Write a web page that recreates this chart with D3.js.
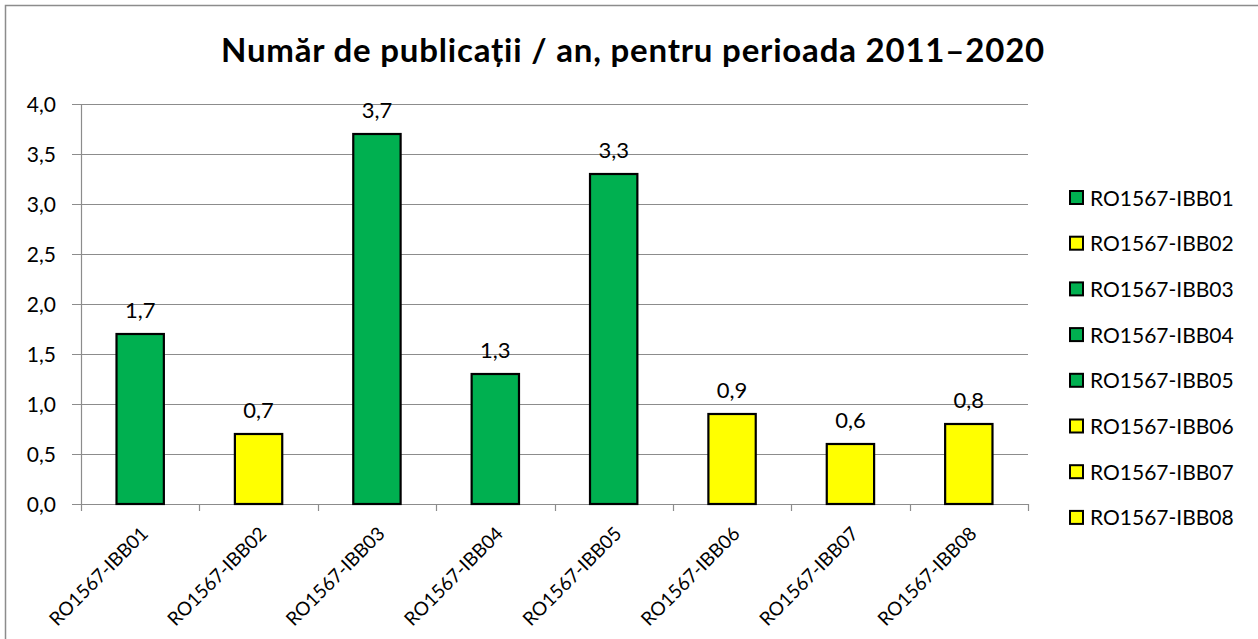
<!DOCTYPE html>
<html>
<head>
<meta charset="utf-8">
<script src="https://cdn.jsdelivr.net/npm/d3@7"></script>
<style>
  body { margin: 0; background: #fff; }
  svg { display: block; }
  text { font-family: Lato, "Open Sans", sans-serif; fill: #000; }
</style>
</head>
<body>
<svg id="chart" width="1258" height="639"></svg>
<script>
// chart data
var categories = ["RO1567-IBB01", "RO1567-IBB02", "RO1567-IBB03", "RO1567-IBB04",
                  "RO1567-IBB05", "RO1567-IBB06", "RO1567-IBB07", "RO1567-IBB08"];
var values = [1.7, 0.7, 3.7, 1.3, 3.3, 0.9, 0.6, 0.8];
var groups = ["green", "yellow", "green", "green", "green", "yellow", "yellow", "yellow"];
var yTicks = [0, 0.5, 1, 1.5, 2, 2.5, 3, 3.5, 4];
var title = "Număr de publicații / an, pentru perioada 2011–2020";

var colors = { green: "#00B050", yellow: "#FFFF00" };

var svg = d3.select("#chart");
var plot = { left: 81, right: 1028, top: 104, bottom: 504 };

// outer chart border (only top and left show in the picture)
svg.append("rect")
	.attr("x", 5.5).attr("y", 5.5)
	.attr("width", 1270).attr("height", 650)
	.attr("fill", "none")
	.attr("stroke", "#8c8c8c")
	.attr("stroke-width", 1.5);

var x = d3.scaleBand()
	.domain(categories)
	.range([plot.left, plot.right])
	.paddingInner(0.6)
	.paddingOuter(0.3);

var xCat = d3.scaleBand()
	.domain(categories)
	.range([plot.left, plot.right]);

var y = d3.scaleLinear()
	.domain([0, 4])
	.range([plot.bottom, plot.top]);

var fmt = function(v){ return d3.format(".1f")(v).replace(".", ","); };

// gridlines + y tick marks
svg.append("g")
	.selectAll("line")
	.data(yTicks)
	.join("line")
	.attr("x1", plot.left - 9)
	.attr("x2", plot.right)
	.attr("y1", function(d){ return Math.round(y(d)) + 0.5; })
	.attr("y2", function(d){ return Math.round(y(d)) + 0.5; })
	.attr("stroke", "#8c8c8c")
	.attr("stroke-width", 1.2);

// y axis line
svg.append("line")
	.attr("x1", plot.left + 0.5).attr("x2", plot.left + 0.5)
	.attr("y1", plot.top).attr("y2", plot.bottom)
	.attr("stroke", "#8c8c8c")
	.attr("stroke-width", 1.2);

// y tick labels
svg.append("g")
	.selectAll("text")
	.data(yTicks)
	.join("text")
	.attr("x", 56)
	.attr("y", function(d){ return y(d); })
	.attr("dy", "0.36em")
	.attr("text-anchor", "end")
	.attr("font-size", 21)
	.text(fmt);

// x tick marks at category boundaries
var bounds = categories.map(function(c){ return xCat(c); }).concat([plot.right]);
svg.append("g")
	.selectAll("line")
	.data(bounds)
	.join("line")
	.attr("x1", function(d){ return Math.round(d) + 0.5; })
	.attr("x2", function(d){ return Math.round(d) + 0.5; })
	.attr("y1", plot.bottom)
	.attr("y2", plot.bottom + 7)
	.attr("stroke", "#8c8c8c")
	.attr("stroke-width", 1.2);

// bars
svg.append("g")
	.selectAll("rect")
	.data(categories)
	.join("rect")
	.attr("x", function(d){ return x(d); })
	.attr("y", function(d, i){ return y(values[i]); })
	.attr("width", x.bandwidth())
	.attr("height", function(d, i){ return plot.bottom - y(values[i]); })
	.attr("fill", function(d, i){ return colors[groups[i]]; })
	.attr("stroke", "#000")
	.attr("stroke-width", 2.2);

// value labels
svg.append("g")
	.selectAll("text")
	.data(categories)
	.join("text")
	.attr("x", function(d){ return x(d) + x.bandwidth() / 2; })
	.attr("y", function(d, i){ return y(values[i]) - 16; })
	.attr("text-anchor", "middle")
	.attr("font-size", 22)
	.text(function(d, i){ return fmt(values[i]); });

// rotated category labels
svg.append("g")
	.selectAll("text")
	.data(categories)
	.join("text")
	.attr("transform", function(d){
		var cx = xCat(d) + xCat.bandwidth() / 2;
		return "translate(" + (cx + 9) + "," + (plot.bottom + 31) + ") rotate(-45)";
	})
	.attr("text-anchor", "end")
	.attr("font-size", 19)
	.text(function(d){ return d; });

// title
svg.append("text")
	.attr("x", 633)
	.attr("y", 62)
	.attr("text-anchor", "middle")
	.attr("font-size", 33)
	.attr("font-weight", "bold")
	.attr("letter-spacing", 0.8)
	.text(title);

// legend
var legend = svg.append("g")
	.selectAll("g")
	.data(categories)
	.join("g")
	.attr("transform", function(d, i){ return "translate(1070," + (198 + i * 45.7) + ")"; });

legend.append("rect")
	.attr("x", 0).attr("y", -7)
	.attr("width", 13).attr("height", 13)
	.attr("fill", function(d, i){ return colors[groups[i]]; })
	.attr("stroke", "#000")
	.attr("stroke-width", 2);

legend.append("text")
	.attr("x", 20)
	.attr("y", 0)
	.attr("dy", "0.36em")
	.attr("font-size", 21)
	.text(function(d){ return d; });
</script>
</body>
</html>
